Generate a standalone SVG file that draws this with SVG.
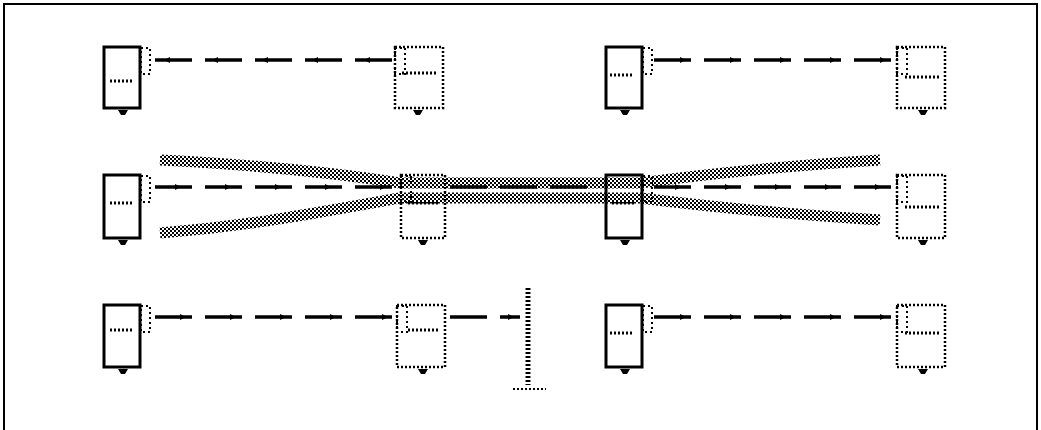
<svg xmlns="http://www.w3.org/2000/svg" width="1041" height="430" viewBox="0 0 1041 430">
<defs>
<pattern id="chk" width="4" height="4" patternUnits="userSpaceOnUse">
<rect x="0" y="0" width="2" height="2" fill="#000"/>
<rect x="2" y="2" width="2" height="2" fill="#000"/>
</pattern>
<style>
.solid{fill:#fff;stroke:#000;stroke-width:3}
.dot{fill:#fff;stroke:#000;stroke-width:2.5;stroke-dasharray:2 2}
.port{fill:none;stroke:#000;stroke-width:2;stroke-dasharray:2 3}
.txt{fill:none;stroke:#000;stroke-width:3;stroke-dasharray:2 2}
.tab{fill:#000}
.conn{fill:none;stroke:#000;stroke-width:3.5;stroke-dasharray:37 13}
.band{fill:none;stroke:url(#chk);stroke-width:11}
</style>
</defs>
<rect width="1041" height="430" fill="#fff"/>
<path d="M4,430 V4 H1037 V430" fill="none" stroke="#000" stroke-width="2"/>

<g id="n1"><rect class="solid" x="104" y="47" width="36" height="61"/><rect class="port" x="141" y="48" width="9" height="26"/><line class="txt" x1="110" y1="81" x2="134" y2="81"/><path class="tab" d="M118,110 h10 l-3,5 h-4z"/></g>
<g id="n2"><rect class="dot" x="395" y="47" width="48" height="61"/><rect class="port" x="395" y="48" width="10" height="26"/><line class="txt" x1="402" y1="73" x2="438" y2="73"/><path class="tab" d="M413,110 h10 l-3,5 h-4z"/></g>
<g id="n3"><rect class="solid" x="606" y="47" width="36" height="61"/><rect class="port" x="643" y="48" width="9" height="26"/><line class="txt" x1="610" y1="75" x2="634" y2="75"/><path class="tab" d="M620,110 h10 l-3,5 h-4z"/></g>
<g id="n4"><rect class="dot" x="897" y="47" width="48" height="61"/><rect class="port" x="897" y="48" width="10" height="26"/><line class="txt" x1="905" y1="77" x2="940" y2="77"/><path class="tab" d="M918,110 h10 l-3,5 h-4z"/></g>

<g id="n5"><rect class="solid" x="104" y="175" width="36" height="63"/><rect class="port" x="141" y="176" width="9" height="26"/><line class="txt" x1="110" y1="203" x2="134" y2="203"/><path class="tab" d="M118,240 h10 l-3,5 h-4z"/></g>
<g id="n6"><rect class="dot" x="401" y="175" width="44" height="63"/><rect class="port" x="401" y="176" width="10" height="26"/><line class="txt" x1="408" y1="203" x2="438" y2="203"/><path class="tab" d="M418,240 h10 l-3,5 h-4z"/></g>
<g id="n7"><rect class="solid" x="606" y="175" width="36" height="63"/><rect class="port" x="643" y="176" width="9" height="26"/><line class="txt" x1="612" y1="203" x2="636" y2="203"/><path class="tab" d="M620,240 h10 l-3,5 h-4z"/></g>
<g id="n8"><rect class="dot" x="897" y="175" width="48" height="63"/><rect class="port" x="897" y="176" width="10" height="26"/><line class="txt" x1="905" y1="207" x2="940" y2="207"/><path class="tab" d="M918,240 h10 l-3,5 h-4z"/></g>

<g id="n9"><rect class="solid" x="104" y="305" width="36" height="62"/><rect class="port" x="141" y="306" width="9" height="26"/><line class="txt" x1="110" y1="330" x2="134" y2="330"/><path class="tab" d="M118,369 h10 l-3,5 h-4z"/></g>
<g id="n10"><rect class="dot" x="397" y="305" width="48" height="62"/><rect class="port" x="397" y="306" width="10" height="26"/><line class="txt" x1="408" y1="330" x2="440" y2="330"/><path class="tab" d="M418,369 h10 l-3,5 h-4z"/></g>
<g id="n11"><rect class="solid" x="606" y="305" width="36" height="62"/><rect class="port" x="643" y="306" width="9" height="26"/><line class="txt" x1="610" y1="333" x2="634" y2="333"/><path class="tab" d="M620,369 h10 l-3,5 h-4z"/></g>
<g id="n12"><rect class="dot" x="897" y="305" width="48" height="62"/><rect class="port" x="897" y="306" width="10" height="26"/><line class="txt" x1="905" y1="333" x2="940" y2="333"/><path class="tab" d="M918,369 h10 l-3,5 h-4z"/></g>

<g id="connectors">
<line class="conn" x1="155" y1="60" x2="393" y2="60"/>
<line class="conn" x1="654" y1="60" x2="897" y2="60"/>
<line class="conn" x1="155" y1="187" x2="400" y2="187"/>
<line class="conn" x1="450" y1="187" x2="600" y2="187" stroke-dasharray="20 10"/>
<line class="conn" x1="654" y1="187" x2="897" y2="187"/>
<line class="conn" x1="155" y1="317" x2="397" y2="317"/>
<line class="conn" x1="450" y1="317" x2="520" y2="317" stroke-dasharray="25 10"/>
<line class="conn" x1="654" y1="317" x2="897" y2="317"/>
<g fill="#000">
<path d="M170,57 l-6,3 6,3z M218,57 l-6,3 6,3z M268,57 l-6,3 6,3z M318,57 l-6,3 6,3z M370,57 l-6,3 6,3z"/>
<path d="M680,57 l6,3 -6,3z M730,57 l6,3 -6,3z M780,57 l6,3 -6,3z M830,57 l6,3 -6,3z M880,57 l6,3 -6,3z"/>
<path d="M175,184 l6,3 -6,3z M225,184 l6,3 -6,3z M275,184 l6,3 -6,3z M325,184 l6,3 -6,3z M380,184 l6,3 -6,3z"/>
<path d="M675,184 l6,3 -6,3z M725,184 l6,3 -6,3z M775,184 l6,3 -6,3z M825,184 l6,3 -6,3z M875,184 l6,3 -6,3z"/>
<path d="M180,314 l6,3 -6,3z M230,314 l6,3 -6,3z M280,314 l6,3 -6,3z M330,314 l6,3 -6,3z M382,314 l6,3 -6,3z M508,314 l6,3 -6,3z"/>
<path d="M680,314 l6,3 -6,3z M730,314 l6,3 -6,3z M780,314 l6,3 -6,3z M830,314 l6,3 -6,3z M880,314 l6,3 -6,3z"/>
</g>
<path class="band" d="M160,160 C260,165 330,172 400,183 L640,183 C720,172 800,165 880,160"/>
<path class="band" d="M160,233 C260,225 330,210 400,198 L640,198 C720,208 800,215 880,220"/>
<line x1="528" y1="288" x2="528" y2="385" stroke="#000" stroke-width="5" stroke-dasharray="2 2"/>
<line x1="513" y1="389" x2="546" y2="389" stroke="#000" stroke-width="2" stroke-dasharray="2 2"/>
</g>
</svg>
